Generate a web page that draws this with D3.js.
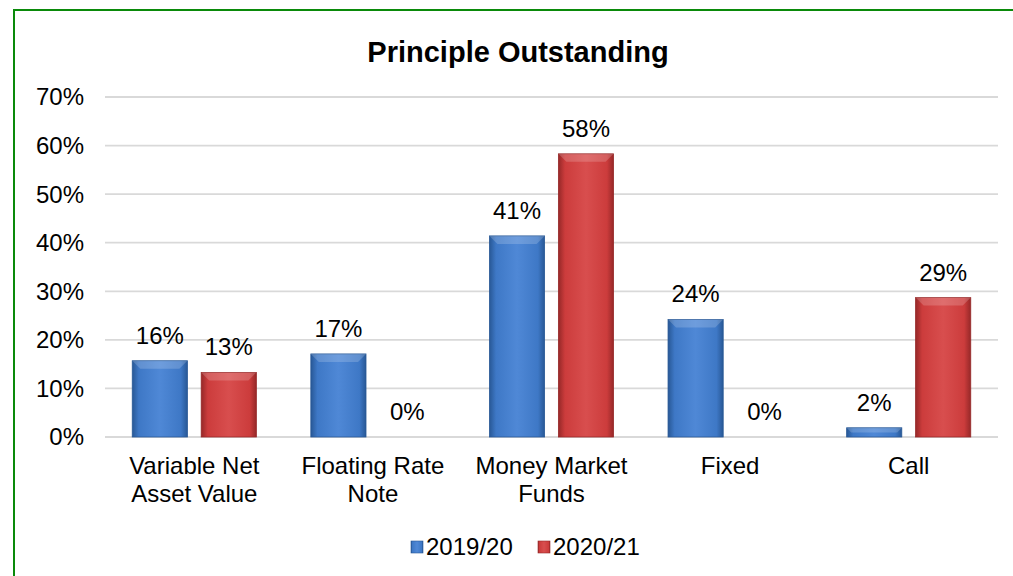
<!DOCTYPE html>
<html>
<head>
<meta charset="utf-8">
<script src="https://cdn.jsdelivr.net/npm/d3@7"></script>
<style>
  body { margin: 0; background: #fff; }
  text { font-family: "Liberation Sans", Arial, sans-serif; fill: #000; }
</style>
</head>
<body>
<div id="chart"></div>
<script>
// data
const categories = [["Variable Net", "Asset Value"], ["Floating Rate", "Note"], ["Money Market", "Funds"], ["Fixed"], ["Call"]];
const seriesNames = ["2019/20", "2020/21"];
const values2019 = [15.7, 17.1, 41.4, 24.2, 1.9];
const values2020 = [13.3, 0, 58.3, 0, 28.7];
const yTicks = [0, 10, 20, 30, 40, 50, 60, 70];

const width = 1013, height = 576;
const margin = {top: 97, right: 15, bottom: 139, left: 105};

const svg = d3.select("#chart").append("svg")
    .attr("width", width)
    .attr("height", height);

// green frame, cut off on the right and bottom like the source
svg.append("rect")
    .attr("x", 14).attr("y", 10)
    .attr("width", 1010).attr("height", 580)
    .attr("fill", "none")
    .attr("stroke", "#0a8a0a")
    .attr("stroke-width", 2);

const defs = svg.append("defs");
const colors = [
    {id: "blueGrad", edge: "#285896", mid: "#3e78c6", light: "#4f88d6"},
    {id: "redGrad", edge: "#962828", mid: "#cc3c3c", light: "#d84e4e"}
];
colors.forEach(c => {
    let g = defs.append("linearGradient").attr("id", c.id)
        .attr("x1", 0).attr("x2", 1).attr("y1", 0).attr("y2", 0);
    g.append("stop").attr("offset", "0%").attr("stop-color", c.edge);
    g.append("stop").attr("offset", "12%").attr("stop-color", c.mid);
    g.append("stop").attr("offset", "50%").attr("stop-color", c.light);
    g.append("stop").attr("offset", "88%").attr("stop-color", c.mid);
    g.append("stop").attr("offset", "100%").attr("stop-color", c.edge);
});

const x0 = d3.scaleBand()
    .domain(d3.range(categories.length))
    .range([margin.left, width - margin.right])
    .paddingInner(0.305)
    .paddingOuter(0.1525);

const x1 = d3.scaleBand()
    .domain(seriesNames)
    .range([0, x0.bandwidth()])
    .paddingInner(0.2);

const y = d3.scaleLinear()
    .domain([0, 70])
    .range([height - margin.bottom, margin.top]);

// gridlines
svg.append("g")
    .selectAll("line")
    .data(yTicks)
    .enter().append("line")
    .attr("x1", margin.left)
    .attr("x2", width - margin.right)
    .attr("y1", d => y(d))
    .attr("y2", d => y(d))
    .attr("stroke", "#d9d9d9")
    .attr("stroke-width", 1.8);

// y axis labels
svg.append("g")
    .selectAll("text")
    .data(yTicks)
    .enter().append("text")
    .attr("x", 84)
    .attr("y", d => y(d))
    .attr("dy", "0.35em")
    .attr("text-anchor", "end")
    .style("font-size", "24px")
    .text(d => d + "%");

// title
svg.append("text")
    .attr("x", 518)
    .attr("y", 62)
    .attr("text-anchor", "middle")
    .style("font-size", "29px")
    .style("font-weight", "bold")
    .text("Principle Outstanding");

const series = [values2019, values2020];

const groups = svg.append("g")
    .selectAll("g")
    .data(categories.map((c, i) => i))
    .enter().append("g")
    .attr("transform", i => "translate(" + x0(i) + ",0)");

groups.each(function(i) {
    let g = d3.select(this);
    seriesNames.forEach((s, k) => {
        let v = series[k][i];
        let bx = x1(s), bw = x1.bandwidth();
        let top = y(v), bottom = y(0);
        if (v > 0) {
            g.append("rect")
                .attr("x", bx).attr("y", top)
                .attr("width", bw).attr("height", bottom - top)
                .attr("fill", "url(#" + colors[k].id + ")")
                .attr("stroke", colors[k].edge)
                .attr("stroke-width", 0.8);
            // top bevel highlight
            let bev = Math.min(8, (bottom - top) / 2);
            g.append("path")
                .attr("d", "M" + bx + "," + top + "L" + (bx + bw) + "," + top +
                    "L" + (bx + bw - bev) + "," + (top + bev) + "L" + (bx + bev) + "," + (top + bev) + "Z")
                .attr("fill", "#fff")
                .attr("opacity", 0.18);
        }
        g.append("text")
            .attr("x", bx + bw / 2)
            .attr("y", top - 17)
            .attr("text-anchor", "middle")
            .style("font-size", "24px")
            .text(Math.round(v) + "%");
    });
});

// category labels
const catLabels = svg.append("g")
    .selectAll("text")
    .data(categories)
    .enter().append("text")
    .attr("x", (d, i) => x0(i) + x0.bandwidth() / 2)
    .attr("y", 474)
    .attr("text-anchor", "middle")
    .style("font-size", "24px");

catLabels.selectAll("tspan")
    .data(d => d)
    .enter().append("tspan")
    .attr("x", function() { return d3.select(this.parentNode).attr("x"); })
    .attr("dy", (d, j) => j === 0 ? 0 : 28)
    .text(d => d);

// legend
const legendX = [411, 538];
const legend = svg.append("g")
    .selectAll("g")
    .data(seriesNames)
    .enter().append("g")
    .attr("transform", (d, k) => "translate(" + legendX[k] + ",541)");

legend.append("rect")
    .attr("width", 12).attr("height", 12)
    .attr("fill", (d, k) => "url(#" + colors[k].id + ")")
    .attr("stroke", (d, k) => colors[k].edge)
    .attr("stroke-width", 0.6);

legend.append("text")
    .attr("x", 15)
    .attr("y", 6)
    .attr("dy", "0.35em")
    .style("font-size", "24px")
    .text(d => d);
</script>
</body>
</html>
